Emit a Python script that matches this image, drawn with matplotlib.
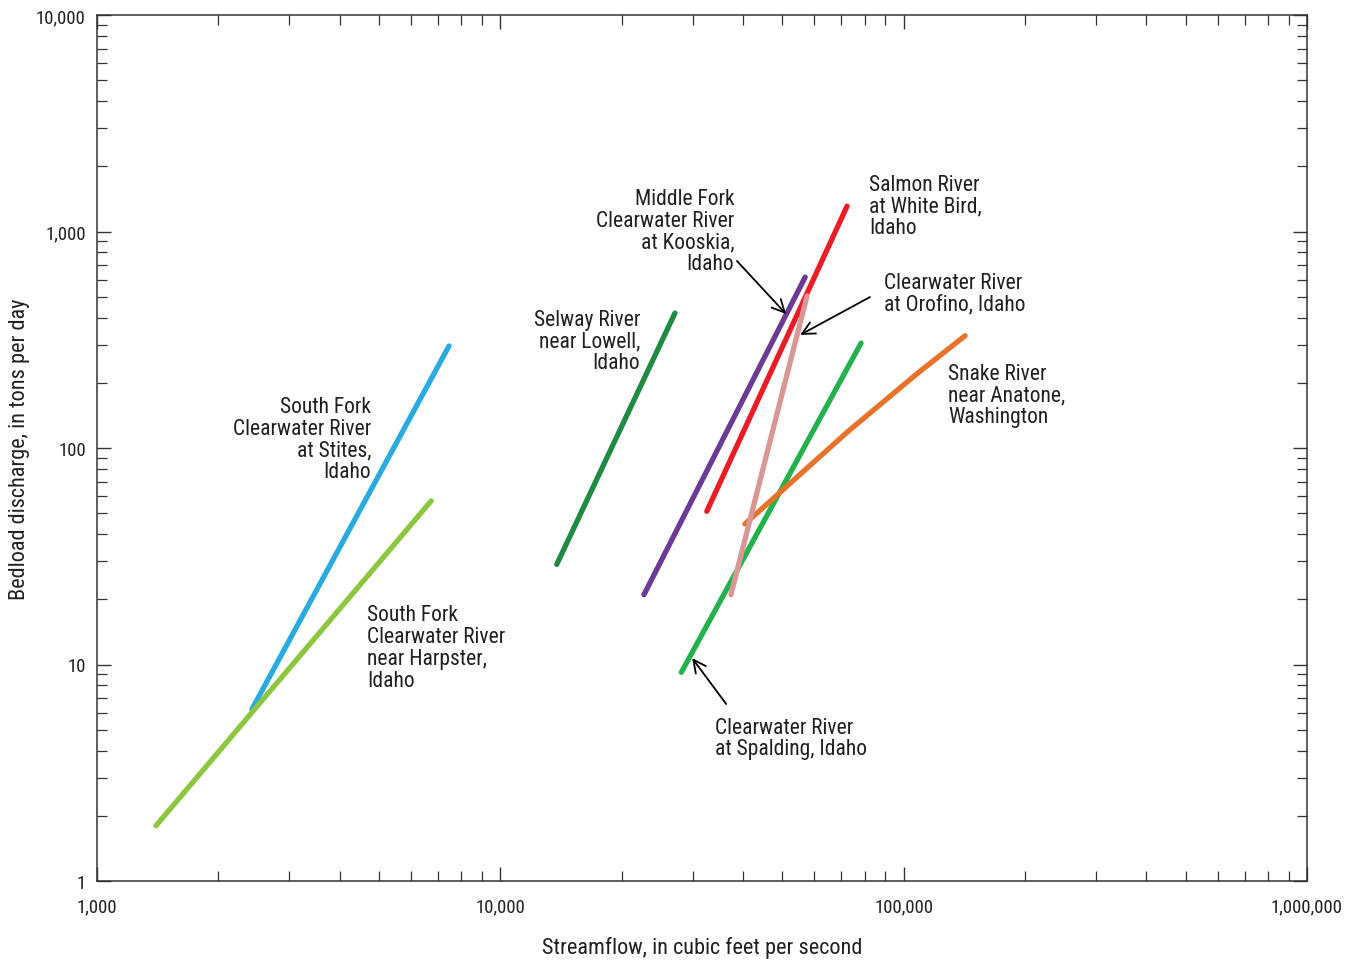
import numpy as np
import matplotlib
matplotlib.use("Agg")
import matplotlib.pyplot as plt
from matplotlib.ticker import LogLocator, FuncFormatter, NullFormatter
from matplotlib import font_manager

# pick a narrow face if one is available
names = {f.name for f in font_manager.fontManager.ttflist}
narrow = [n for n in ['Liberation Sans Narrow', 'DejaVu Sans Condensed', 'Roboto Condensed', 'Roboto']
          if n in names]
plt.rcParams['font.family'] = narrow + ['DejaVu Sans']

# --- Rating-curve end points (streamflow cfs, bedload tons/day) ---
stites_q = [2420, 7460]
stites_b = [6.2, 296]
harpster_q = [1400, 6740]
harpster_b = [1.8, 57]
selway_q = [13800, 27100]
selway_b = [29, 420]
kooskia_q = [22700, 57000]
kooskia_b = [21, 616]
salmon_q = [32500, 72400]
salmon_b = [51, 1310]
orofino_q = [37300, 57600]
orofino_b = [21, 504]
spalding_q = [28100, 78400]
spalding_b = [9.2, 305]
snake_q = [40400, 72300, 107800, 142000]
snake_b = [44.6, 118, 220, 330]

series = [
    (stites_q, stites_b, '#29abe2'),
    (harpster_q, harpster_b, '#8dc63f'),
    (selway_q, selway_b, '#1f8a44'),
    (kooskia_q, kooskia_b, '#6a3a96'),
    (salmon_q, salmon_b, '#ed1c24'),
    (spalding_q, spalding_b, '#22b14c'),
    (snake_q, snake_b, '#e8722a'),
    (orofino_q, orofino_b, '#d99694'),
]

txt = '#231f20'

fig = plt.figure(figsize=(13.53, 9.62), dpi=100)
ax = fig.add_axes([97 / 1353, 1 - 882 / 962, 1210 / 1353, 866 / 962])
ax.set_xscale('log')
ax.set_yscale('log')
ax.set_xlim(1000, 1_000_000)
ax.set_ylim(1, 10_000)

for q, b, c in series:
    ax.plot(q, b, color=c, lw=3.8, solid_capstyle='round', solid_joinstyle='round')

# axes styling
for s in ax.spines.values():
    s.set_linewidth(1.1)
    s.set_color('#333333')
fmt = FuncFormatter(lambda v, p: f"{v:,.0f}")
for axis in (ax.xaxis, ax.yaxis):
    axis.set_major_locator(LogLocator(base=10, numticks=10))
    axis.set_minor_locator(LogLocator(base=10, subs=np.arange(2, 10), numticks=10))
    axis.set_major_formatter(fmt)
    axis.set_minor_formatter(NullFormatter())
ax.tick_params(which='both', direction='in', top=True, right=True, color='#333333',
               labelsize=13.5, labelcolor=txt)
ax.tick_params(which='major', length=10, width=1.0, pad=8)
ax.tick_params(axis='x', which='major', pad=12)
ax.tick_params(which='minor', length=7.5, width=0.9)

ax.set_xlabel('Streamflow, in cubic feet per second', fontsize=16, color=txt, labelpad=15)
ax.set_ylabel('Bedload discharge, in tons per day', fontsize=16, color=txt, labelpad=4)

# annotations
kw = dict(fontsize=15.5, color=txt, linespacing=1.05, va='center')
ax.text(4780, 110, 'South Fork\nClearwater River\nat Stites,\nIdaho', ha='right', multialignment='right', **kw)
ax.text(4670, 12.0, 'South Fork\nClearwater River\nnear Harpster,\nIdaho', ha='left', **kw)
ax.text(22200, 312, 'Selway River\nnear Lowell,\nIdaho', ha='right', multialignment='right', **kw)
ax.text(38000, 1005, 'Middle Fork\nClearwater River\nat Kooskia,\nIdaho', ha='right', multialignment='right', **kw)
ax.text(82100, 1312, 'Salmon River\nat White Bird,\nIdaho', ha='left', **kw)
ax.text(89400, 517, 'Clearwater River\nat Orofino, Idaho', ha='left', **kw)
ax.text(128800, 176, 'Snake River\nnear Anatone,\nWashington', ha='left', **kw)
ax.text(34100, 4.58, 'Clearwater River\nat Spalding, Idaho', ha='left', **kw)

arrow = dict(arrowstyle='->,head_length=0.9,head_width=0.45', color='black', lw=1.3,
             shrinkA=0, shrinkB=0)
ax.annotate('', xy=(51100, 416), xytext=(38600, 731), arrowprops=arrow)
ax.annotate('', xy=(55400, 333), xytext=(82500, 498), arrowprops=arrow)
ax.annotate('', xy=(29900, 10.7), xytext=(36300, 6.57), arrowprops=arrow)

fig.savefig('out.png', dpi=100)
